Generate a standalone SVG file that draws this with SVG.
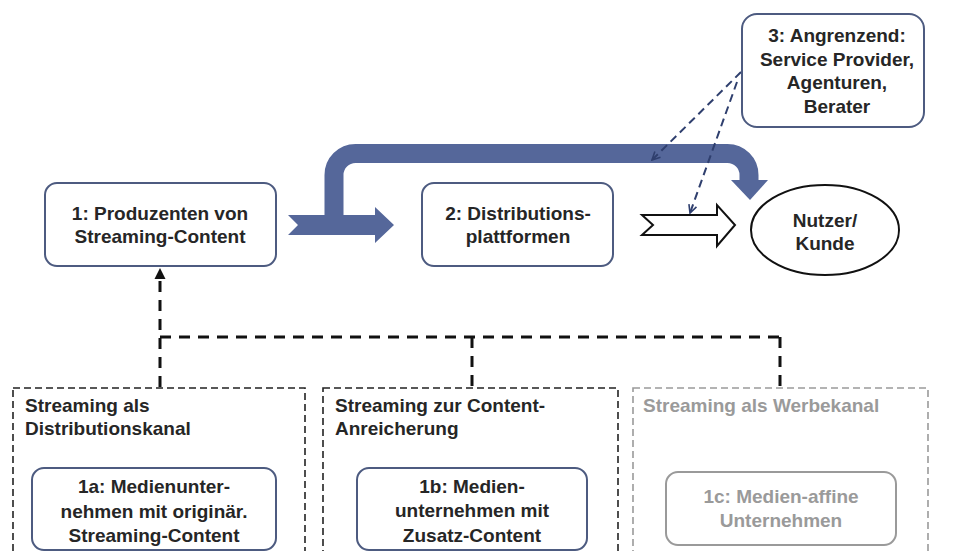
<svg xmlns="http://www.w3.org/2000/svg" width="971" height="551" viewBox="0 0 971 551">
<style>
text{font-family:"Liberation Sans",Arial,sans-serif;font-weight:bold;font-size:19px;fill:#262626;}
.c{text-anchor:middle;}
.box{fill:#fff;stroke:#4d5b80;stroke-width:2;}
.grey text,.grey{fill:#9a9a9a;}
.gbox{fill:#fff;stroke:#9a9a9a;stroke-width:2;}
.cont{fill:none;stroke:#222;stroke-width:1.6;stroke-dasharray:7 4;}
.gcont{fill:none;stroke:#9a9a9a;stroke-width:1.6;stroke-dasharray:7 4;}
.main{fill:none;stroke:#111;stroke-width:3;stroke-dasharray:11 8;}
.blue{fill:none;stroke:#2f3f6e;stroke-width:2;stroke-dasharray:8 5;}
</style>
<defs>
<marker id="v" viewBox="0 0 10 10" refX="9" refY="5" markerWidth="10" markerHeight="10" markerUnits="userSpaceOnUse" orient="auto">
<path d="M1,1 L9,5 L1,9" fill="none" stroke="#2f3f6e" stroke-width="1.6"/>
</marker>
</defs>
<rect width="971" height="551" fill="#fff"/>

<g id="container-1a">
<rect class="cont" x="13" y="388" width="292" height="180"/>
<text x="25" y="412">Streaming als</text>
<text x="25" y="435">Distributionskanal</text>
</g>
<g id="container-1b">
<rect class="cont" x="323" y="388" width="295" height="180"/>
<text x="335" y="412">Streaming zur Content-</text>
<text x="335" y="435">Anreicherung</text>
</g>
<g id="container-1c" class="grey">
<rect class="gcont" x="633" y="388" width="295" height="180"/>
<text x="643" y="412" style="fill:#9a9a9a">Streaming als Werbekanal</text>
</g>

<g id="connectors">
<path class="main" d="M160,387 V280"/>
<polygon points="160,268 154.5,279 165.5,279" fill="#111"/>
<path class="main" d="M160,337 H780 M472,337 V387 M780,337 V387"/>
<path d="M334,222 V175 A21.5,21.5 0 0 1 355.5,153.5 H727.5 A21.5,21.5 0 0 1 749,175 V182" fill="none" stroke="#55679a" stroke-width="19"/>
<polygon points="731,180 768,180 750,200" fill="#55679a"/>
<polygon points="288,215 375,215 375,207 394,225 375,243 375,235 288,235 298,225" fill="#55679a"/>
<polygon points="642,215 717,215 717,205 735,225 717,246 717,235 642,235 653,225" fill="#fff" stroke="#111" stroke-width="2" stroke-linejoin="miter"/>
<path class="blue" d="M741,72 L652,160" marker-end="url(#v)"/>
<path class="blue" d="M737,82 L690,213" marker-end="url(#v)"/>
</g>

<g id="node-1">
<rect class="box" x="45" y="183" width="231" height="83" rx="12"/>
<text class="c" x="160" y="220">1: Produzenten von</text>
<text class="c" x="160" y="243">Streaming-Content</text>
</g>
<g id="node-2">
<rect class="box" x="422" y="183" width="191" height="83" rx="12"/>
<text class="c" x="518" y="220">2: Distributions-</text>
<text class="c" x="518" y="243">plattformen</text>
</g>
<g id="node-3">
<rect class="box" x="742" y="14" width="182" height="113" rx="15"/>
<text class="c" x="837" y="42">3: Angrenzend:</text>
<text class="c" x="837" y="66">Service Provider,</text>
<text class="c" x="837" y="89">Agenturen,</text>
<text class="c" x="837" y="113">Berater</text>
</g>
<g id="node-nutzer">
<ellipse cx="825" cy="230" rx="74" ry="45" fill="#fff" stroke="#111" stroke-width="2"/>
<text class="c" x="825" y="227">Nutzer/</text>
<text class="c" x="825" y="250">Kunde</text>
</g>
<g id="node-1a">
<rect class="box" x="32" y="468" width="244" height="82" rx="12"/>
<text class="c" x="154" y="493">1a: Medienunter-</text>
<text class="c" x="154" y="518">nehmen mit originär.</text>
<text class="c" x="154" y="542">Streaming-Content</text>
</g>
<g id="node-1b">
<rect class="box" x="357" y="468" width="230" height="82" rx="12"/>
<text class="c" x="472" y="493">1b: Medien-</text>
<text class="c" x="472" y="517">unternehmen mit</text>
<text class="c" x="472" y="542">Zusatz-Content</text>
</g>
<g id="node-1c">
<rect class="gbox" x="666" y="472" width="230" height="73" rx="12"/>
<text class="c" x="781" y="503" style="fill:#9a9a9a">1c: Medien-affine</text>
<text class="c" x="781" y="527" style="fill:#9a9a9a">Unternehmen</text>
</g>
</svg>
